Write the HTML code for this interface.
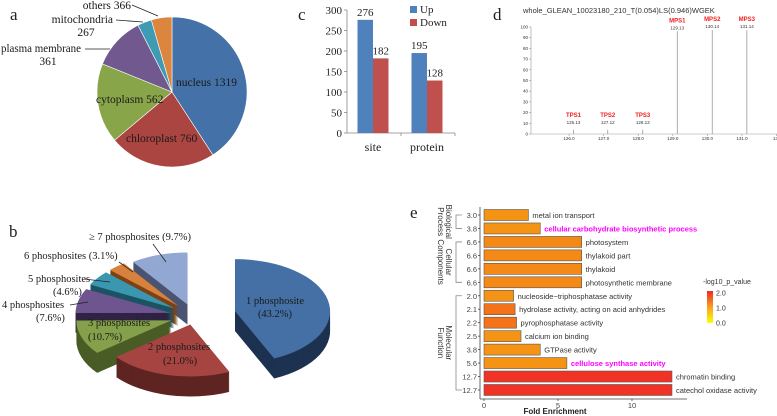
<!DOCTYPE html>
<html><head><meta charset="utf-8"><style>
html,body{margin:0;padding:0;background:#fff;}
svg{display:block;}
.serif{font-family:"Liberation Serif",serif;}
.sans{font-family:"Liberation Sans",sans-serif;}
</style></head><body>
<svg id="fig" width="777" height="416" viewBox="0 0 777 416" xmlns="http://www.w3.org/2000/svg">
<g class="serif" font-size="17" fill="#222">
<text x="10" y="20">a</text>
<text x="298" y="20">c</text>
<text x="493" y="20">d</text>
<text x="9" y="237">b</text>
<text x="410" y="218">e</text>
</g>
<g id="pa"></g>
<g id="pc"></g>
<g id="pd"></g>
<g id="pb"></g>
<g id="pe"></g>
</svg>
<script>
const NS="http://www.w3.org/2000/svg";
function mk(parent,tag,attrs,text){const e=document.createElementNS(NS,tag);for(const k in attrs)e.setAttribute(k,attrs[k]);if(text!==undefined)e.textContent=text;parent.appendChild(e);return e;}

// ---------- Panel a data ----------
const aCategories=["nucleus","chloroplast","cytoplasm","plasma membrane","mitochondria","others"];
const aCounts=[1319,760,562,361,267,366];
const aShares=[147,83,62,41,11,16];
const aColors=["#4472a8","#aa4542","#89a54a","#71598f","#3f9bb3","#db853e"];

// ---------- Panel c data ----------
const cCategories=["site","protein"];
const cUpValues=[276,195];
const cDownValues=[182,128];
const cTicks=[0,50,100,150,200,250,300];

// ---------- Panel d data ----------
const dPeakLabels=["TPS1","TPS2","TPS3","MPS1","MPS2","MPS3"];
const dMz=[126.13,127.12,128.13,129.13,130.14,131.14];
const dIntensity=[4,4,4,96,97,97];
const dYTicks=[0,10,20,30,40,50,60,70,80,90,100];
const dXTicks=[126.0,127.0,128.0,129.0,130.0,131.0,132];

// ---------- Panel b data ----------
const bCategories=["1 phosphosite","2 phosphosites","3 phosphosites","4 phosphosites","5 phosphosites","6 phosphosites","≥ 7 phosphosites"];
const bPercents=[43.2,21.0,10.7,7.6,4.6,3.1,9.7];

// ---------- Panel e data ----------
const eTerms=["metal ion transport","cellular carbohydrate biosynthetic process","photosystem","thylakoid part","thylakoid","photosynthetic membrane","nucleoside−triphosphatase activity","hydrolase activity, acting on acid anhydrides","pyrophosphatase activity","calcium ion binding","GTPase activity","cellulose synthase activity","chromatin binding","catechol oxidase activity"];
const eFold=[3.0,3.8,6.6,6.6,6.6,6.6,2.0,2.1,2.2,2.5,3.8,5.6,12.7,12.7];
const ePValue=[1.0,1.0,1.1,1.1,1.1,1.1,1.0,1.3,1.3,1.0,1.0,1.0,1.9,1.9];
const eHighlight=[false,true,false,false,false,false,false,false,false,false,false,true,false,false];
const eXTicks=[0,5,10];
const eLegendTicks=[2.0,1.0,0.0];

// ===== Panel a =====
(function(){
  const g=document.getElementById('pa');
  const cx=172,cy=92,r=75;
  const tot=aShares.reduce((a,b)=>a+b,0);
  let a0=0;
  aShares.forEach((v,i)=>{
    const a1=a0+v/tot*2*Math.PI;
    const x0=cx+r*Math.sin(a0),y0=cy-r*Math.cos(a0),x1=cx+r*Math.sin(a1),y1=cy-r*Math.cos(a1);
    const p=mk(g,'path',{d:`M${cx},${cy}L${x0},${y0}A${r},${r} 0 ${a1-a0>Math.PI?1:0} 1 ${x1},${y1}Z`,fill:aColors[i],stroke:'#fff','stroke-width':0.6});
    
    
    a0=a1;
  });
  const t=mk(g,'g',{class:'serif','font-size':11.5,fill:'#1a1a1a'});
  
  const L=[[aCategories[0]+' '+aCounts[0],176,86,'start'],[aCategories[1]+' '+aCounts[1],126,142,'start'],[aCategories[2]+' '+aCounts[2],96,103,'start'],
    [String(aCounts[3]),48,65,'middle'],[aCategories[4],113,23,'end'],[String(aCounts[4]),86,36,'middle'],[aCategories[5]+' '+aCounts[5],131,9,'end']];
  L.forEach(l=>{const e=mk(t,'text',{x:l[1],y:l[2],'text-anchor':l[3]},l[0]);});
  const pm=mk(t,'text',{x:1,y:52,textLength:80,lengthAdjust:'spacingAndGlyphs'},aCategories[3]);
  
  const ln=mk(g,'g',{stroke:'#222','stroke-width':0.8});
  
  mk(ln,'line',{x1:132,y1:5,x2:158,y2:16});mk(ln,'line',{x1:116,y1:20,x2:143,y2:22});mk(ln,'line',{x1:85,y1:49,x2:110,y2:49});
})();

// ===== Panel c =====
(function(){
  const g=document.getElementById('pc');
  const x0=347,x1=455,yb=133,yt=10,max=300;
  const Y=v=>yb-(v/max)*(yb-yt);
  const ax=mk(g,'g',{stroke:'#888','stroke-width':0.8});
  
  mk(ax,'line',{x1:x0,y1:yt,x2:x0,y2:yb});mk(ax,'line',{x1:x0,y1:yb,x2:x1,y2:yb});
  const tl=mk(g,'g',{class:'serif','font-size':11,fill:'#222','text-anchor':'end'});
  
  cTicks.forEach(v=>{mk(ax,'line',{x1:x0-3,y1:Y(v),x2:x0,y2:Y(v)});const e=mk(tl,'text',{x:x0-5,y:Y(v)+4},String(v));});
  const bw=15.5,groupW=(x1-x0)/cCategories.length;
  cCategories.forEach((c,i)=>{
    const gc=x0+groupW*(i+0.5)-1;
    mk(ax,'line',{x1:x0+groupW*(i+1),y1:yb,x2:x0+groupW*(i+1),y2:yb+3});
    const bu=mk(g,'rect',{x:gc-bw,y:Y(cUpValues[i]),width:bw,height:yb-Y(cUpValues[i]),fill:'#4f81bd'});
    
    const bd=mk(g,'rect',{x:gc,y:Y(cDownValues[i]),width:bw,height:yb-Y(cDownValues[i]),fill:'#c0504d'});
    
    const l1=mk(g,'text',{x:gc-bw/2,y:Y(cUpValues[i])-4,'text-anchor':'middle',class:'serif','font-size':11,fill:'#222'},String(cUpValues[i]));
    
    const l2=mk(g,'text',{x:gc+bw/2,y:Y(cDownValues[i])-4,'text-anchor':'middle',class:'serif','font-size':11,fill:'#222'},String(cDownValues[i]));
    
    const cl=mk(g,'text',{x:gc,y:151,'text-anchor':'middle',class:'serif','font-size':12,fill:'#222'},c);
    
  });
  const lg=mk(g,'g',{class:'serif','font-size':11,fill:'#222'});
  
  const r1=mk(lg,'rect',{x:410,y:6,width:7,height:7,fill:'#4f81bd'});
  const t1=mk(lg,'text',{x:420,y:13},'Up');
  const r2=mk(lg,'rect',{x:410,y:19,width:7,height:7,fill:'#c0504d'});
  const t2=mk(lg,'text',{x:420,y:26},'Down');
})();

// ===== Panel d =====
(function(){
  const g=document.getElementById('pd');
  const x0=531,xEnd=777,yb=134,yt=27;
  const X=v=>569+(v-126)*34.6;
  const Y=v=>yb-(v/100)*(yb-yt);
  const ti=mk(g,'text',{x:523,y:13,class:'sans','font-size':7.5,fill:'#333'},'whole_GLEAN_10023180_210_T(0.054)LS(0.946)WGEK');
  
  const ax=mk(g,'g',{stroke:'#999','stroke-width':0.6});
  
  mk(ax,'line',{x1:x0,y1:yt,x2:x0,y2:yb});mk(ax,'line',{x1:x0,y1:yb,x2:xEnd,y2:yb});
  const tg=mk(g,'g',{class:'sans','font-size':4.5,fill:'#333'});
  
  dYTicks.forEach(v=>{mk(ax,'line',{x1:x0-2,y1:Y(v),x2:x0,y2:Y(v)});const e=mk(tg,'text',{x:x0-3,y:Y(v)+1.5,'text-anchor':'end'},String(v));});
  dXTicks.forEach(v=>{mk(ax,'line',{x1:X(v),y1:yb,x2:X(v),y2:yb+2});const e=mk(tg,'text',{x:X(v),y:yb+6,'text-anchor':'middle'},v%1===0&&v<132?v.toFixed(1):String(v));});
  dMz.forEach((m,i)=>{
    const l=mk(g,'line',{x1:X(m),y1:yb,x2:X(m),y2:Y(dIntensity[i]),stroke:'#999','stroke-width':0.8});
    
    const top=Math.min(Y(dIntensity[i]),yb-8);
    const n=mk(g,'text',{x:X(m),y:top-2,'text-anchor':'middle',class:'sans','font-size':4.5,fill:'#333'},m.toFixed(2));
    
    const p=mk(g,'text',{x:X(m),y:top-9,'text-anchor':'middle',class:'sans','font-size':6,'font-weight':'bold',fill:'#f02020'},dPeakLabels[i]);
    
  });
})();

// ===== Panel b =====
(function(){
  const g=document.getElementById('pb');
  const cx=194,cy=316,rx=95,ry=52,depth=20;
  const tops=["#4470a5","#a64442","#84a04a","#6e5590","#3a97b0","#d7813d","#92a8d2"];
  const sides=["#1d3250","#5e2422","#4a5c26","#2f2242","#1d5363","#7c4216","#4a5470"];
  const expl=[42,16,24,24,24,24,22];
  const tot=bPercents.reduce((a,b)=>a+b,0);
  const slices=[];let a0=0;
  bPercents.forEach((v,i)=>{const a1=a0+v/tot*2*Math.PI;slices.push({i,a0,a1,m:(a0+a1)/2});a0=a1;});
  function path(s,dy){
    const ox=cx+expl[s.i]*Math.sin(s.m),oy=cy-expl[s.i]*(ry/rx)*Math.cos(s.m)+dy;
    const p0=[ox+rx*Math.sin(s.a0),oy-ry*Math.cos(s.a0)],p1=[ox+rx*Math.sin(s.a1),oy-ry*Math.cos(s.a1)];
    return `M${ox},${oy}L${p0[0]},${p0[1]}A${rx},${ry} 0 ${s.a1-s.a0>Math.PI?1:0} 1 ${p1[0]},${p1[1]}Z`;
  }
  slices.slice().sort((a,b)=>Math.cos(b.m)-Math.cos(a.m)).forEach(s=>{
    const sg=mk(g,'g',{});
    
    for(let d=depth;d>0;d-=1)mk(sg,'path',{d:path(s,d),fill:sides[s.i]});
    mk(sg,'path',{d:path(s,0),fill:tops[s.i]});
  });
  const t=mk(g,'g',{class:'serif','font-size':10.5,fill:'#1a1a1a'});
  
  const L=[[bCategories[0],275,304,'middle'],['('+bPercents[0].toFixed(1)+'%)',275,317,'middle'],[bCategories[1],148,350,'start'],['('+bPercents[1].toFixed(1)+'%)',163,364,'start'],
    [bCategories[2],88,326,'start'],['('+bPercents[2].toFixed(1)+'%)',88,340,'start']];
  L.forEach(l=>{const e=mk(t,'text',{x:l[1],y:l[2],'text-anchor':l[3]},l[0]);});
  const L2=[[bCategories[6]+' ('+bPercents[6].toFixed(1)+'%)',89,240],[bCategories[5]+' ('+bPercents[5].toFixed(1)+'%)',24,259],[bCategories[4],28,282],['('+bPercents[4].toFixed(1)+'%)',53,295],[bCategories[3],2,308],['('+bPercents[3].toFixed(1)+'%)',36,321]];
  L2.forEach(l=>{const e=mk(t,'text',{x:l[1],y:l[2]},l[0]);});
  const ln=mk(g,'g',{stroke:'#222','stroke-width':0.8});
  
  mk(ln,'line',{x1:153,y1:244,x2:166,y2:262});mk(ln,'line',{x1:119,y1:262,x2:133,y2:272});
  mk(ln,'line',{x1:84,y1:279,x2:110,y2:282});mk(ln,'line',{x1:70,y1:305,x2:88,y2:302});
})();

// ===== Panel e =====
(function(){
  const g=document.getElementById('pe');
  const x0=484,ux=14.8,yFirst=215,step=13.46,bh=11,axX=480,axBottom=399;
  const X=v=>x0+v*ux;
  const Yc=i=>yFirst+i*step;
  function col(p){const t=Math.max(0,Math.min(1,p/2));const gch=Math.round(255-t*(255-40));return `rgb(${Math.round(250-t*10)},${gch},${Math.round(0+t*40)})`;}
  const ax=mk(g,'g',{stroke:'#444','stroke-width':0.8,fill:'none'});
  
  mk(ax,'line',{x1:axX,y1:207,x2:axX,y2:axBottom});mk(ax,'line',{x1:axX,y1:axBottom,x2:687,y2:axBottom});
  eTerms.forEach((term,i)=>{
    const y=Yc(i);
    mk(ax,'line',{x1:axX-2,y1:y,x2:axX,y2:y});
    const b=mk(g,'rect',{x:x0,y:y-bh/2,width:X(eFold[i])-x0,height:bh,fill:col(ePValue[i]),stroke:'#555','stroke-width':0.6});
    
    const v=mk(g,'text',{x:axX-3,y:y+3,'text-anchor':'end',class:'sans','font-size':7.5,fill:'#444'},eFold[i].toFixed(1));
    
    const l=mk(g,'text',{x:X(eFold[i])+4,y:y+3,class:'sans','font-size':7.5,'font-weight':eHighlight[i]?'bold':'normal',fill:eHighlight[i]?'#ff00ff':'#333'},term);
    
  });
  eXTicks.forEach(v=>{mk(ax,'line',{x1:X(v),y1:axBottom,x2:X(v),y2:axBottom+2});const e=mk(g,'text',{x:X(v),y:axBottom+9,'text-anchor':'middle',class:'sans','font-size':7.5,fill:'#444'},String(v));});
  const xt=mk(g,'text',{x:555,y:414,'text-anchor':'middle',class:'sans','font-size':8,'font-weight':'bold',fill:'#222'},'Fold Enrichment');
  
  const groups=[[0,1,'Biological','Process'],[2,5,'Cellular','Components'],[6,13,'Molecular','Function']];
  groups.forEach(gr=>{
    const y0=Yc(gr[0]),y1=Yc(gr[1]);
    const br=mk(g,'path',{d:`M462,${y0}H456V${y1}H462`,stroke:'#888','stroke-width':0.8,fill:'none'});
    
    const ym=(y0+y1)/2;
    const t1=mk(g,'text',{x:449,y:ym,'text-anchor':'middle',class:'sans','font-size':8,fill:'#333',transform:`rotate(90 449 ${ym}) translate(0 3)`},gr[2]);
    
    const t2=mk(g,'text',{x:441,y:ym,'text-anchor':'middle',class:'sans','font-size':8,fill:'#333',transform:`rotate(90 441 ${ym}) translate(0 3)`},gr[3]);
    
  });
  const lg=mk(g,'g',{});
  
  const defs=mk(lg,'defs',{});const gr=mk(defs,'linearGradient',{id:'pg',x1:0,y1:1,x2:0,y2:0});
  mk(gr,'stop',{offset:0,'stop-color':'#ffff00'});mk(gr,'stop',{offset:0.5,'stop-color':'#f7a020'});mk(gr,'stop',{offset:1,'stop-color':'#f02828'});
  mk(lg,'text',{x:703,y:284,class:'sans','font-size':7,fill:'#333'},'-log10_p_value');
  mk(lg,'rect',{x:707,y:291,width:6,height:32,fill:'url(#pg)'});
  eLegendTicks.forEach(v=>{const e=mk(lg,'text',{x:716,y:323-v/2*30+2.5,class:'sans','font-size':7,fill:'#333'},v.toFixed(1));});
})();
</script>
</body></html>
